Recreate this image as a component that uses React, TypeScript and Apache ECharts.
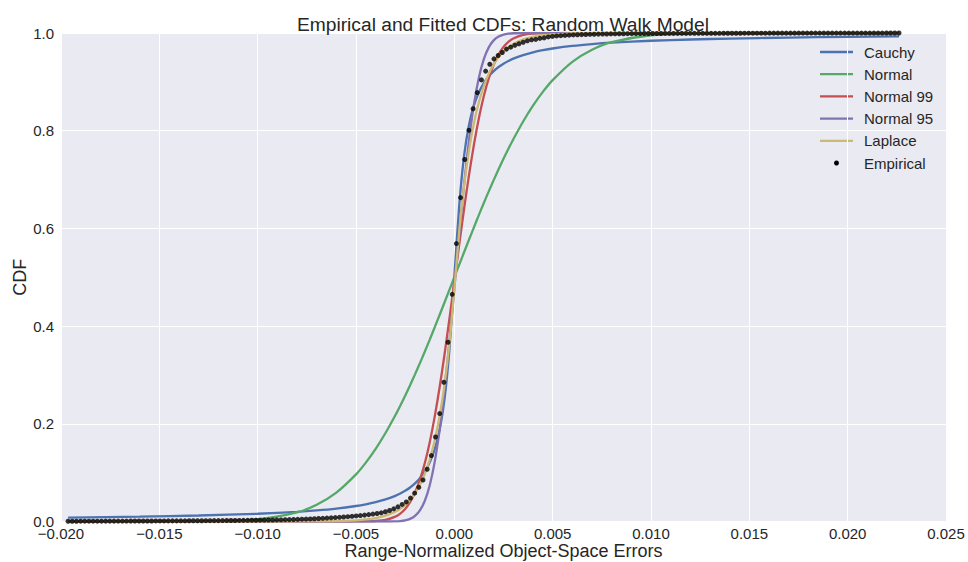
import { useEffect, useRef } from "react";
import * as echarts from "echarts";

// Error values are kept in units of 1e-3 and scaled to the axis units when plotted.
const FIT_X_MILLI = [
  -19.64, -16, -13, -10, -8, -7, -6, -5, -4.5, -4, -3.5, -3, -2.75, -2.5, -2.25, -2,
  -1.75, -1.5, -1.25, -1, -0.75, -0.5, -0.25, 0, 0.25, 0.5, 0.75, 1, 1.25, 1.5, 1.75,
  2, 2.25, 2.5, 2.75, 3, 3.5, 4, 4.5, 5, 6, 7, 8, 10, 12, 14, 17, 20, 22.61,
];

const CAUCHY_CDF = [
  0.0081, 0.00995, 0.01224, 0.0159, 0.01987, 0.0227, 0.02646, 0.03173, 0.03522, 0.03958,
  0.04517, 0.05257, 0.05725, 0.06283, 0.0696, 0.07798, 0.08858, 0.10242, 0.12112, 0.14758,
  0.18717, 0.25, 0.35242, 0.5, 0.64758, 0.75, 0.81283, 0.85242, 0.87888, 0.89758, 0.91142,
  0.92202, 0.9304, 0.93717, 0.94275, 0.94743, 0.95483, 0.96042, 0.96478, 0.96827, 0.97354,
  0.9773, 0.98013, 0.9841, 0.98674, 0.98864, 0.99064, 0.99204, 0.99296,
];

const NORMAL_CDF = [
  0, 0, 0.0004, 0.0046, 0.0186, 0.0342, 0.0591, 0.0965, 0.1206, 0.1487, 0.1811, 0.2174,
  0.237, 0.2575, 0.279, 0.3012, 0.3242, 0.3479, 0.3722, 0.3974, 0.4227, 0.4483, 0.4741,
  0.5, 0.5259, 0.5517, 0.5773, 0.6026, 0.6278, 0.6521, 0.6758, 0.6988, 0.721, 0.7425,
  0.763, 0.7826, 0.8189, 0.8513, 0.8794, 0.9035, 0.9409, 0.9658, 0.9814, 0.9954, 0.9991,
  0.9999, 1, 1, 1,
];

const NORMAL99_CDF = [
  0, 0, 0, 0, 0, 0, 0, 0.0001, 0.0003, 0.001, 0.0033, 0.0099, 0.0163, 0.0258, 0.0397,
  0.0592, 0.0855, 0.1196, 0.1624, 0.2141, 0.2743, 0.3417, 0.4149, 0.4908, 0.5672, 0.6413,
  0.7102, 0.7722, 0.8259, 0.871, 0.9071, 0.9351, 0.9562, 0.9713, 0.9818, 0.9888, 0.9962,
  0.9989, 0.9997, 0.9999, 1, 1, 1, 1, 1, 1, 1, 1, 1,
];

const NORMAL95_CDF = [
  0, 0, 0, 0, 0, 0, 0, 0, 0, 0, 0, 0.0004, 0.0009, 0.0023, 0.0053, 0.0114, 0.0228, 0.0425,
  0.0743, 0.1216, 0.187, 0.2706, 0.3694, 0.4778, 0.5879, 0.6915, 0.7817, 0.8544, 0.9088,
  0.9464, 0.9706, 0.9849, 0.9927, 0.9968, 0.9987, 0.9995, 0.9999, 1, 1, 1, 1, 1, 1, 1, 1,
  1, 1, 1, 1,
];

const LAPLACE_CDF = [
  0, 0, 0, 0, 0.0001, 0.0003, 0.0009, 0.0025, 0.0042, 0.007, 0.0119, 0.0202, 0.0262,
  0.0341, 0.0444, 0.0578, 0.0752, 0.0978, 0.1273, 0.1656, 0.2154, 0.2802, 0.3646, 0.4744,
  0.5949, 0.6887, 0.7607, 0.8161, 0.8586, 0.8913, 0.9165, 0.9358, 0.9507, 0.9621, 0.9709,
  0.9776, 0.9868, 0.9922, 0.9954, 0.9973, 0.999, 0.9997, 0.9999, 1, 1, 1, 1, 1, 1,
];

const EMPIRICAL_X_MILLI = [
  -19.64, -19.428, -19.215, -19.003, -18.791, -18.578, -18.366, -18.154, -17.942, -17.729,
  -17.517, -17.305, -17.092, -16.88, -16.668, -16.455, -16.243, -16.031, -15.818, -15.606,
  -15.394, -15.181, -14.969, -14.757, -14.545, -14.332, -14.12, -13.908, -13.695, -13.483,
  -13.271, -13.058, -12.846, -12.634, -12.421, -12.209, -11.997, -11.785, -11.572, -11.36,
  -11.148, -10.935, -10.723, -10.511, -10.298, -10.086, -9.874, -9.661, -9.449, -9.237,
  -9.025, -8.812, -8.6, -8.388, -8.175, -7.963, -7.751, -7.538, -7.326, -7.114,
  -6.901, -6.689, -6.477, -6.264, -6.052, -5.84, -5.628, -5.415, -5.203, -4.991,
  -4.778, -4.566, -4.354, -4.141, -3.929, -3.717, -3.504, -3.292, -3.08, -2.868,
  -2.655, -2.443, -2.231, -2.018, -1.806, -1.594, -1.381, -1.169, -0.957, -0.744,
  -0.532, -0.32, -0.107, 0.105, 0.317, 0.529, 0.742, 0.954, 1.166, 1.379,
  1.591, 1.803, 2.016, 2.228, 2.44, 2.653, 2.865, 3.077, 3.289, 3.502,
  3.714, 3.926, 4.139, 4.351, 4.563, 4.776, 4.988, 5.2, 5.412, 5.625,
  5.837, 6.049, 6.262, 6.474, 6.686, 6.899, 7.111, 7.323, 7.536, 7.748,
  7.96, 8.173, 8.385, 8.597, 8.809, 9.022, 9.234, 9.446, 9.659, 9.871,
  10.083, 10.296, 10.508, 10.72, 10.933, 11.145, 11.357, 11.569, 11.782, 11.994,
  12.207, 12.419, 12.631, 12.843, 13.056, 13.268, 13.48, 13.693, 13.905, 14.117,
  14.33, 14.542, 14.754, 14.967, 15.179, 15.391, 15.603, 15.816, 16.028, 16.24,
  16.453, 16.665, 16.877, 17.09, 17.302, 17.514, 17.727, 17.939, 18.151, 18.364,
  18.576, 18.788, 19.0, 19.213, 19.425, 19.637, 19.85, 20.062, 20.274, 20.487,
  20.699, 20.911, 21.124, 21.336, 21.548, 21.76, 21.973, 22.185, 22.397, 22.61,
];

const EMPIRICAL_CDF = [
  0.0005, 0.0005, 0.0005, 0.0006, 0.0006, 0.0006, 0.0007, 0.0007, 0.0007, 0.0008,
  0.0008, 0.0008, 0.0009, 0.0009, 0.0009, 0.001, 0.001, 0.001, 0.0011, 0.0011,
  0.0011, 0.0012, 0.0012, 0.0012, 0.0013, 0.0013, 0.0013, 0.0014, 0.0014, 0.0015,
  0.0015, 0.0016, 0.0016, 0.0017, 0.0017, 0.0018, 0.0018, 0.0019, 0.002, 0.002,
  0.0021, 0.0022, 0.0023, 0.0024, 0.0025, 0.0026, 0.0027, 0.0028, 0.003, 0.0031,
  0.0033, 0.0035, 0.0037, 0.0039, 0.0041, 0.0044, 0.0047, 0.005, 0.0053, 0.0057,
  0.0061, 0.0065, 0.007, 0.0075, 0.008, 0.0086, 0.0092, 0.0099, 0.0106, 0.0114,
  0.0122, 0.0131, 0.0141, 0.0152, 0.0164, 0.0178, 0.0199, 0.0225, 0.026, 0.03,
  0.035, 0.04, 0.048, 0.058, 0.07, 0.085, 0.107, 0.135, 0.173, 0.221,
  0.285, 0.367, 0.465, 0.569, 0.663, 0.741, 0.801, 0.845, 0.878, 0.904,
  0.922, 0.936, 0.947, 0.954, 0.96, 0.967, 0.971, 0.975, 0.978, 0.981,
  0.984, 0.986, 0.987, 0.989, 0.99, 0.992, 0.993, 0.994, 0.9945, 0.995,
  0.9955, 0.996, 0.9964, 0.9967, 0.997, 0.9973, 0.9975, 0.9977, 0.9979, 0.998,
  0.9982, 0.9983, 0.9984, 0.9985, 0.9986, 0.9987, 0.9988, 0.9988, 0.9989, 0.9989,
  0.999, 0.999, 0.999, 0.9991, 0.9991, 0.9991, 0.9992, 0.9992, 0.9992, 0.9993,
  0.9993, 0.9993, 0.9993, 0.9994, 0.9994, 0.9994, 0.9994, 0.9995, 0.9995, 0.9995,
  0.9995, 0.9995, 0.9996, 0.9996, 0.9996, 0.9996, 0.9996, 0.9996, 0.9997, 0.9997,
  0.9997, 0.9997, 0.9997, 0.9997, 0.9997, 0.9998, 0.9998, 0.9998, 0.9998, 0.9998,
  0.9998, 0.9998, 0.9998, 0.9998, 0.9999, 0.9999, 0.9999, 0.9999, 0.9999, 0.9999,
  0.9999, 0.9999, 0.9999, 0.9999, 0.9999, 0.9999, 1, 1, 1, 1,
];

const FITS = [
  { name: "Cauchy", color: "#4C72B0", cdf: CAUCHY_CDF },
  { name: "Normal", color: "#55A868", cdf: NORMAL_CDF },
  { name: "Normal 99", color: "#C44E52", cdf: NORMAL99_CDF },
  { name: "Normal 95", color: "#8172B2", cdf: NORMAL95_CDF },
  { name: "Laplace", color: "#CCB974", cdf: LAPLACE_CDF },
];

const TEXT = "#262626";
const FONT = '"Liberation Sans", Arial, sans-serif';
const LINE_W = 2.3;

const milli = (v: number) => v / 1000;

function tickText(v: number, digits: number) {
  if (Math.abs(v) < 1e-12) return (0).toFixed(digits);
  return v.toFixed(digits).replace("-", "\u2212");
}

export default function App() {
  const ref = useRef<HTMLDivElement>(null);

  useEffect(() => {
    const chart = echarts.init(ref.current!, null, { renderer: "svg" });

    const lineSeries = FITS.map((f) => ({
      name: f.name,
      type: "line",
      data: FIT_X_MILLI.map((x, i) => [milli(x), f.cdf[i]]),
      showSymbol: false,
      symbol: "none",
      smooth: 0.25,
      lineStyle: { color: f.color, width: LINE_W },
      itemStyle: { color: f.color },
      z: 2,
    }));

    // Legend drawn in the top-right corner of the plot, without a frame
    const legendY0 = 52;
    const legendStep = 22.2;
    const legendItems: any[] = [];
    FITS.forEach((f, i) => {
      const y = legendY0 + legendStep * i;
      legendItems.push({
        type: "line",
        shape: { x1: 820, y1: y, x2: 853, y2: y },
        style: { stroke: f.color, lineWidth: LINE_W },
      });
      legendItems.push({
        type: "text",
        x: 864,
        y,
        style: { text: f.name, fill: TEXT, fontSize: 15, fontFamily: FONT, verticalAlign: "middle", align: "left" },
      });
    });
    const empY = legendY0 + legendStep * FITS.length;
    legendItems.push({ type: "circle", shape: { cx: 836.5, cy: empY, r: 2.5 }, style: { fill: "#000" } });
    legendItems.push({
      type: "text",
      x: 864,
      y: empY,
      style: { text: "Empirical", fill: TEXT, fontSize: 15, fontFamily: FONT, verticalAlign: "middle", align: "left" },
    });

    chart.setOption({
      animation: false,
      backgroundColor: "#ffffff",
      textStyle: { fontFamily: FONT },
      title: {
        text: "Empirical and Fitted CDFs: Random Walk Model",
        left: 292,
        top: 10,
        textStyle: { color: TEXT, fontSize: 19.2, fontWeight: "normal", fontFamily: FONT },
      },
      grid: {
        left: 61,
        top: 33,
        width: 885,
        height: 488.5,
        show: true,
        backgroundColor: "#EAEAF2",
        borderWidth: 0,
        outerBoundsMode: "none",
        containLabel: false,
      },
      xAxis: {
        type: "value",
        min: -0.02,
        max: 0.025,
        interval: 0.005,
        name: "Range-Normalized Object-Space Errors",
        nameLocation: "middle",
        nameGap: 20,
        nameMoveOverlap: false,
        nameTextStyle: { color: TEXT, fontSize: 18, fontFamily: FONT },
        axisLine: { show: false },
        axisTick: { show: false },
        axisLabel: {
          color: TEXT,
          fontSize: 15,
          fontFamily: FONT,
          margin: 4,
          formatter: (v: number) => tickText(v, 3),
        },
        splitLine: { show: true, lineStyle: { color: "#ffffff", width: 1 } },
      },
      yAxis: {
        type: "value",
        min: 0,
        max: 1,
        interval: 0.2,
        name: "CDF",
        nameLocation: "middle",
        nameRotate: 90,
        nameGap: 32,
        nameMoveOverlap: false,
        nameTextStyle: { color: TEXT, fontSize: 18, fontFamily: FONT },
        axisLine: { show: false },
        axisTick: { show: false },
        axisLabel: {
          color: TEXT,
          fontSize: 15,
          fontFamily: FONT,
          margin: 7,
          formatter: (v: number) => tickText(v, 1),
        },
        splitLine: { show: true, lineStyle: { color: "#ffffff", width: 1 } },
      },
      series: [
        ...lineSeries,
        {
          name: "Empirical",
          type: "scatter",
          data: EMPIRICAL_X_MILLI.map((x, i) => [milli(x), EMPIRICAL_CDF[i]]),
          symbol: "circle",
          symbolSize: 5,
          itemStyle: { color: "#000000" },
          z: 3,
        },
      ],
      graphic: [{ type: "group", children: legendItems, z: 10 }],
    });

    return () => chart.dispose();
  }, []);

  return (
    <div
      ref={ref}
      style={{ position: "fixed", left: 0, top: 0, width: 968, height: 562, background: "#ffffff" }}
    />
  );
}
